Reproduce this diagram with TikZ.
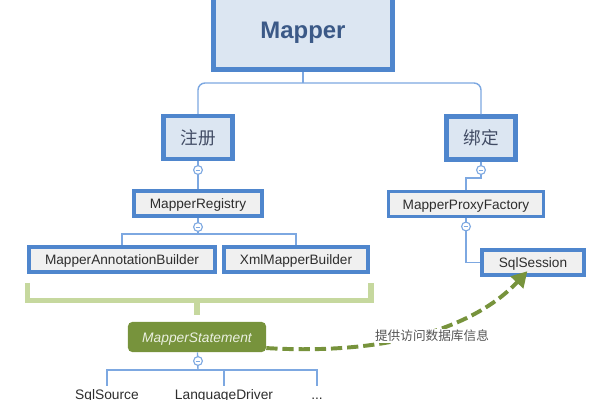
\documentclass[tikz,border=0pt]{standalone}
\usepackage{fontspec}
\setmainfont{Liberation Sans}
\newfontfamily\cjk{Noto Sans CJK SC}
\usetikzlibrary{arrows.meta}
\definecolor{boxblue}{RGB}{79,134,205}
\definecolor{paleblue}{RGB}{220,230,242}
\definecolor{itemgray}{RGB}{240,240,240}
\definecolor{linkblue}{RGB}{125,168,225}
\definecolor{rootink}{RGB}{59,89,135}
\definecolor{topicink}{RGB}{65,75,100}
\definecolor{darkink}{RGB}{45,45,45}
\definecolor{olive}{RGB}{119,147,60}
\definecolor{lightolive}{RGB}{198,216,158}
\definecolor{stmtink}{RGB}{235,240,225}
\definecolor{tagink}{RGB}{85,85,85}
\begin{document}
\begin{tikzpicture}[x=0.025cm, y=-0.025cm,
          root/.style={draw=boxblue, line width=3.6pt, fill=paleblue, minimum width=4.475cm, minimum height=1.875cm, text height=1.8ex, text depth=0pt, font=\fontsize{17}{19}\selectfont\bfseries, text=rootink},
          topic/.style={draw=boxblue, line width=2.9pt, fill=paleblue, minimum width=1.725cm, minimum height=1.075cm, font=\cjk\fontsize{12.5}{14}\selectfont, text=topicink},
          item/.style={draw=boxblue, line width=2.6pt, fill=itemgray, minimum height=0.625cm, inner sep=0pt, text height=1.45ex, text depth=0pt, font=\fontsize{9.7}{11}\selectfont, text=darkink},
          stmt/.style={fill=olive, rounded corners=3pt, minimum width=3.45cm, minimum height=0.75cm, text height=1.45ex, text depth=0pt, font=\fontsize{9.8}{11}\selectfont\itshape, text=stmtink},
          fold/.style={circle, draw=linkblue, line width=0.8pt, fill=white, minimum size=0.22cm, inner sep=0pt,
            path picture={\draw[linkblue, line width=0.7pt] ([xshift=1.5pt]path picture bounding box.west) -- ([xshift=-1.5pt]path picture bounding box.east);}},
          link/.style={draw=linkblue, line width=1pt},
          bracket/.style={draw=lightolive, line width=3.6pt},
          flow/.style={draw=olive, line width=2.8pt, dash pattern=on 8pt off 3.5pt, -{Triangle[length=11pt, width=12pt]}},
          leaf/.style={font=\fontsize{9.8}{11}\selectfont, text=darkink, text height=1.6ex, text depth=0.5ex, inner sep=1pt},
          tag/.style={font=\cjk\fontsize{9}{11}\selectfont, text=tagink, fill=white, inner sep=1pt}]
        \useasboundingbox (0,0) rectangle (600,400);
        \node[root] (mapper) at (303,32) {Mapper};
        \node[topic] (zhuce) at (198,137.5) {注册};
        \node[topic] (bangding) at (481,138) {绑定};
        \node[item, minimum width=3.2cm] (registry) at (198,203.5) {MapperRegistry};
        \node[item, minimum width=3.875cm] (proxy) at (466,204) {MapperProxyFactory};
        \node[item, minimum width=4.65cm] (annot) at (122,259.5) {MapperAnnotationBuilder};
        \node[item, minimum width=3.6cm] (xmlb) at (296,259.5) {XmlMapperBuilder};
        \node[item, minimum width=2.55cm] (session) at (533,262.5) {SqlSession};
        \node[stmt] (stmt) at (197,337) {MapperStatement};
        \node[leaf] (src) at (107,395) {SqlSource};
        \node[leaf] (drv) at (224,395) {LanguageDriver};
        \node[leaf] (more) at (317,395) {...};
        % branch points
        \coordinate (h1) at (303,83);
        \coordinate (h2) at (198,234);
        \coordinate (h3) at (198,370);
        \coordinate (bend) at (481,178);
        \draw[link] (mapper.south) -- (h1);
        \draw[link, rounded corners=5pt] (zhuce.north) |- (h1) -| (bangding.north);
        \draw[link] (zhuce) -- (registry);
        \draw[link] (registry) -- (h2);
        \draw[link] (annot.north) |- (h2) -| (xmlb.north);
        \draw[link] (bangding) -- (bend) -| (proxy.north);
        \draw[link] (proxy.south) |- (session.west);
        \draw[link] (stmt) -- (h3);
        \draw[link] (src.north) |- (h3) -| (more.north);
        \draw[link] (h3) -| (drv.north);
        % collapse markers
        \node[fold] (f1) at (198,170) {};
        \node[fold] (f2) at (198,227) {};
        \node[fold] (f3) at (481,170) {};
        \node[fold] (f4) at (466,226.5) {};
        \node[fold] (f5) at (198,361) {};
        % green bracket
        \coordinate (brl) at (27.5,283);
        \coordinate (brr) at (371,283);
        \coordinate (brm) at (197,300.5);
        \coordinate (brs) at (197,315);
        \draw[bracket] (brl) |- (brm) -| (brr);
        \draw[bracket] (brm) -- (brs);
        \draw[flow] ([yshift=3pt]stmt.south east) .. controls (400,356) and (480,322) .. ([xshift=-4pt,yshift=4pt]session.south);
        \node[tag] (info) at (432,336) {提供访问数据库信息};
      \end{tikzpicture}
\end{document}
